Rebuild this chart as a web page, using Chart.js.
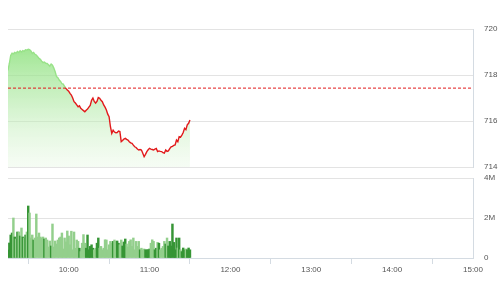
<!DOCTYPE html>
<html>
<head>
<meta charset="utf-8">
<title>Intraday index</title>
<script src="https://cdn.jsdelivr.net/npm/chart.js@4.4.1/dist/chart.umd.min.js"></script>
<style>
  html, body { margin: 0; padding: 0; background: #fff; }
  #wrap { position: relative; width: 501px; height: 300px; overflow: hidden; }
  #priceChart { position: absolute; left: 0; top: 0; }
  #volumeChart { position: absolute; left: 0; top: 170px; }
</style>
</head>
<body>
<div id="wrap">
  <canvas id="priceChart" width="501" height="176"></canvas>
  <canvas id="volumeChart" width="501" height="130"></canvas>
</div>
<script>
// One value per minute, starting at the session open
const sessionStart = '09:15';
const axisStart = '09:15';
const axisEnd = '15:00';
const referencePrice = 717.43;

const priceValues = [
    718.20, 718.50, 718.85, 718.95, 718.92, 718.98, 718.95, 719.02, 718.98, 719.05,
    719.00, 719.06, 719.03, 719.10, 719.08, 719.12, 719.10, 719.05, 718.94, 718.98,
    718.90, 718.87, 718.80, 718.72, 718.68, 718.60, 718.54, 718.56, 718.51, 718.50,
    718.45, 718.39, 718.48, 718.43, 718.30, 718.14, 717.93, 717.88, 717.78, 717.72,
    717.62, 717.60, 717.50, 717.42, 717.35, 717.30, 717.20, 717.13, 717.00, 716.84,
    716.78, 716.70, 716.62, 716.66, 716.55, 716.50, 716.45, 716.40, 716.47, 716.52,
    716.60, 716.68, 716.90, 717.00, 716.85, 716.78, 716.85, 717.02, 716.99, 716.90,
    716.84, 716.70, 716.60, 716.48, 716.30, 716.19, 715.75, 715.46, 715.60, 715.52,
    715.49, 715.50, 715.56, 715.54, 715.10, 715.15, 715.22, 715.25, 715.20, 715.17,
    715.10, 715.05, 715.03, 714.95, 714.88, 714.85, 714.78, 714.74, 714.76, 714.74,
    714.60, 714.45, 714.55, 714.67, 714.75, 714.81, 714.78, 714.76, 714.74, 714.78,
    714.81, 714.67, 714.70, 714.68, 714.67, 714.62, 714.60, 714.74, 714.68, 714.70,
    714.80, 714.88, 714.90, 714.94, 714.96, 715.17, 715.10, 715.32, 715.30, 715.39,
    715.50, 715.68, 715.62, 715.83, 715.90, 716.04
];

// Matched volume, millions of shares
const volumeValues = [
    0.40, 0.75, 1.15, 1.25, 2.00, 1.05, 0.95, 1.30, 1.30, 1.10,
    1.50, 1.05, 1.00, 1.15, 1.30, 2.60, 2.25, 1.00, 1.15, 0.90,
    1.00, 2.20, 1.05, 1.25, 1.05, 1.00, 1.05, 0.95, 1.00, 0.90,
    0.55, 0.85, 0.60, 1.70, 0.55, 0.85, 0.70, 0.90, 1.00, 1.05,
    1.25, 0.45, 1.00, 0.80, 1.35, 1.10, 0.66, 1.34, 0.41, 1.30,
    0.49, 0.90, 0.83, 0.49, 0.32, 0.74, 1.17, 0.74, 0.49, 1.15,
    0.41, 0.58, 0.66, 0.49, 0.41, 0.49, 0.74, 1.00, 0.49, 0.58,
    0.41, 0.49, 0.91, 0.90, 0.41, 0.66, 0.83, 0.74, 0.83, 0.90,
    0.83, 0.85, 0.74, 0.66, 0.90, 0.60, 0.80, 0.95, 0.70, 0.55,
    0.83, 0.91, 0.58, 1.00, 0.41, 0.83, 0.58, 0.83, 0.41, 0.49,
    0.41, 0.45, 0.41, 0.41, 0.41, 0.45, 0.74, 0.91, 0.83, 0.41,
    0.49, 0.78, 0.74, 0.41, 0.49, 0.58, 0.83, 0.70, 1.00, 0.60,
    0.83, 0.60, 1.70, 0.78, 0.41, 1.00, 0.50, 1.00, 0.41, 0.32,
    0.50, 0.41, 0.45, 0.41, 0.50, 0.41
];

const timeTicks = ['10:00', '11:00', '12:00', '13:00', '14:00', '15:00'];
const priceTicks = [714, 716, 718, 720];
const volumeTicks = [0, 2, 4];
const volumeTickLabels = ['0', '2M', '4M'];

const upGreen = '#369535';
const downGreen = '#93cf8c';
const lineRed = '#e2191b';
const lineGreen = '#98e288';
const gridColor = '#e3e3e3';
const borderColor = '#d4dbe2';
const tickFont = { family: "'Liberation Sans', Arial, sans-serif", size: 8 };
const tickColor = '#555';

function toMinutes(label) {
    const parts = label.split(':');
    return parseInt(parts[0], 10) * 60 + parseInt(parts[1], 10);
}

const xMin = toMinutes(axisStart);
const xMax = toMinutes(axisEnd);
const firstMinute = toMinutes(sessionStart);

const pricePoints = priceValues.map((v, i) => ({ x: firstMinute + i, y: v }));
const volumePoints = volumeValues.map((v, i) => ({ x: firstMinute + i, y: v }));
const barColors = priceValues.map((v, i) => (i === 0 || v >= priceValues[i - 1]) ? upGreen : downGreen);

// Stroke is green above the reference price and red below it
function splitStroke(context) {
    const chart = context.chart;
    const area = chart.chartArea;
    if (!area) return lineRed;
    const yRef = chart.scales.y.getPixelForValue(referencePrice);
    const stop = Math.min(1, Math.max(0, (yRef - area.top) / (area.bottom - area.top)));
    const g = chart.ctx.createLinearGradient(0, area.top, 0, area.bottom);
    g.addColorStop(0, lineGreen);
    g.addColorStop(stop, lineGreen);
    g.addColorStop(stop, lineRed);
    g.addColorStop(1, lineRed);
    return g;
}

function fillGradient(context) {
    const chart = context.chart;
    const area = chart.chartArea;
    if (!area) return 'rgba(140,225,125,0.5)';
    const g = chart.ctx.createLinearGradient(0, area.top, 0, area.bottom);
    g.addColorStop(0, 'rgba(128,222,110,0.9)');
    g.addColorStop(0.5, 'rgba(170,232,158,0.6)');
    g.addColorStop(1, 'rgba(225,246,220,0.3)');
    return g;
}

function fixedTicks(values) {
    return function(scale) {
        scale.ticks = values.map(v => ({ value: v }));
    };
}

// Right-hand value axis; the gap before the labels is an invisible tick mark
function valueAxis(min, max, tickValues, labelFor) {
    return {
        position: 'right',
        min: min,
        max: max,
        afterBuildTicks: fixedTicks(tickValues),
        afterFit: function(scale) { scale.width = 28; },
        grid: { color: gridColor, drawTicks: true, tickLength: 11, tickColor: 'rgba(0,0,0,0)' },
        border: { display: true, color: borderColor },
        ticks: { padding: 0, color: tickColor, font: tickFont, callback: labelFor }
    };
}

const priceChart = new Chart(document.getElementById('priceChart'), {
    type: 'line',
    data: {
        datasets: [{
            data: [{ x: xMin, y: referencePrice }, { x: xMax, y: referencePrice }],
            borderColor: lineRed,
            borderWidth: 1,
            borderDash: [3, 2],
            pointRadius: 0,
            fill: false
        }, {
            data: pricePoints,
            borderColor: splitStroke,
            backgroundColor: fillGradient,
            borderWidth: 1.4,
            pointRadius: 0,
            tension: 0,
            fill: 'start'
        }]
    },
    options: {
        responsive: false,
        animation: false,
        devicePixelRatio: 1,
        layout: { padding: { top: 29, bottom: 9, left: 8, right: 0 } },
        plugins: {
            legend: { display: false },
            tooltip: { enabled: false }
        },
        scales: {
            x: {
                type: 'linear',
                display: false,
                min: xMin,
                max: xMax
            },
            y: valueAxis(714, 720, priceTicks, function(value) { return String(value); })
        }
    }
});

const volumeChart = new Chart(document.getElementById('volumeChart'), {
    type: 'bar',
    data: {
        datasets: [{
            data: volumePoints,
            backgroundColor: barColors,
            borderWidth: 0,
            barThickness: 1.8
        }]
    },
    options: {
        responsive: false,
        animation: false,
        devicePixelRatio: 1,
        layout: { padding: { top: 8, bottom: 22, left: 8, right: 0 } },
        plugins: {
            legend: { display: false },
            tooltip: { enabled: false }
        },
        scales: {
            x: {
                type: 'linear',
                offset: false,
                min: xMin,
                max: xMax,
                afterBuildTicks: fixedTicks(timeTicks.map(toMinutes)),
                afterFit: function(scale) { scale.height = 20; },
                grid: { drawOnChartArea: false, drawTicks: true, tickLength: 6, color: borderColor },
                border: { display: true, color: borderColor },
                ticks: {
                    padding: 1,
                    maxRotation: 0,
                    autoSkip: false,
                    color: tickColor,
                    font: tickFont,
                    callback: function(value) {
                        return timeTicks.find(t => toMinutes(t) === value) || '';
                    }
                }
            },
            y: valueAxis(0, 4, volumeTicks, function(value) {
                return volumeTickLabels[volumeTicks.indexOf(value)];
            })
        }
    }
});
</script>
</body>
</html>
